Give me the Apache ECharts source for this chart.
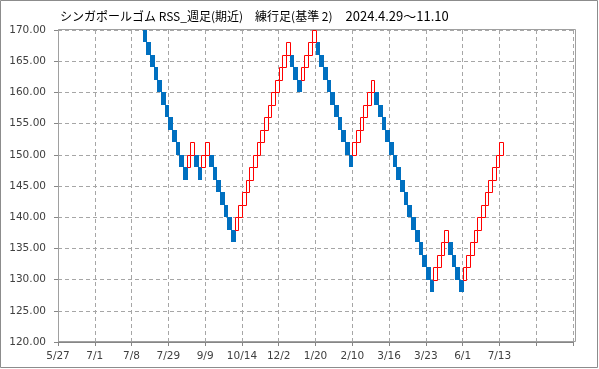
<!DOCTYPE html>
<html>
<head>
<meta charset="utf-8">
<script src="https://cdn.jsdelivr.net/npm/echarts@6/dist/echarts.min.js"></script>
<style>
html,body{margin:0;padding:0;background:#fff;}
#chart{width:599px;height:369px;}
</style>
</head>
<body>
<div id="chart"></div>
<script>
// ---- data ----
const titleMain = 'シンガポールゴム';
const titleSub = 'RSS_週足(期近)　練行足(基準 2)';
const titleDate = '2024.4.29～11.10';
const tickLabels = ['5/27','7/1','7/8','7/29','9/9','10/14','12/2','1/20','2/10','3/16','3/23','6/1','7/13','',''];
const firstBrick = 22;
const brickOpen = [
  172,170,168,166,164,162,160,158,156,154,152,150,148,
  148,150,
  150,148,
  148,150,
  150,148,146,144,142,140,138,
  138,140,142,144,146,148,150,152,154,156,158,160,162,164,166,
  166,164,162,
  162,164,166,168,
  168,166,164,162,160,158,156,154,152,150,
  150,152,154,156,158,160,
  160,158,156,154,152,150,148,146,144,142,140,138,136,134,132,130,
  130,132,134,136,
  136,134,132,130,
  130,132,134,136,138,140,142,144,146,148,150
];
const brickClose = [
  170,168,166,164,162,160,158,156,154,152,150,148,146,
  150,152,
  148,146,
  150,152,
  148,146,144,142,140,138,136,
  140,142,144,146,148,150,152,154,156,158,160,162,164,166,168,
  164,162,160,
  164,166,168,170,
  166,164,162,160,158,156,154,152,150,148,
  152,154,156,158,160,162,
  158,156,154,152,150,148,146,144,142,140,138,136,134,132,130,128,
  132,134,136,138,
  134,132,130,128,
  132,134,136,138,140,142,144,146,148,150,152
];
const yMin = 120, yMax = 170, yStep = 5;
const xMin = 0, xMax = 140, xStep = 10;

// ---- build ----
const bricks = brickOpen.map((o, i) => [firstBrick + i, o, brickClose[i]]);

const chart = echarts.init(document.getElementById('chart'), null, {renderer: 'canvas'});
const gridColor = '#A6A6A6';
const axisColor = '#868686';
const labelFont = 'DejaVu Sans';

const option = {
  backgroundColor: '#fff',
  animation: false,
  grid: {left: 58, right: 26, top: 30, bottom: 27, containLabel: false},
  xAxis: {
    type: 'value', min: xMin, max: xMax, interval: xStep,
    axisLine: {show: true, onZero: false, lineStyle: {color: axisColor, width: 1}},
    axisTick: {show: true, length: 4, lineStyle: {color: axisColor}},
    axisLabel: {
      color: '#404040', fontFamily: labelFont, fontSize: 10.5, margin: 9,
      formatter: v => { const i = Math.round(v / xStep); return (Math.abs(v - i * xStep) < 1e-6 && tickLabels[i]) ? tickLabels[i] : ''; }
    },
    splitLine: {show: true, lineStyle: {color: gridColor, type: [4, 3], width: 1}}
  },
  yAxis: {
    type: 'value', min: yMin, max: yMax, interval: yStep,
    axisLine: {show: true, lineStyle: {color: axisColor, width: 1}},
    axisTick: {show: true, length: 4, lineStyle: {color: axisColor}},
    axisLabel: {color: '#404040', fontFamily: labelFont, fontSize: 10.5, margin: 12, formatter: v => v.toFixed(2)},
    splitLine: {show: true, lineStyle: {color: gridColor, type: [4, 3], width: 1}}
  },
  graphic: [
    {type: 'rect', shape: {x: 0.5, y: 0.5, width: 597, height: 367}, style: {fill: 'none', stroke: '#8C8C8C', lineWidth: 1}, z: 100, silent: true},
    {type: 'rect', shape: {x: 58.5, y: 29.5, width: 517, height: 312}, style: {fill: 'none', stroke: '#A0A0A0', lineWidth: 1}, z: 50, silent: true},
    {type: 'text', left: 60, top: 10, z: 100, style: {
      text: '{a|' + titleMain + ' }{b|' + titleSub + '}{c|　' + titleDate + '}',
      rich: {
        a: {font: '12px "Noto Sans CJK JP"', fill: '#000'},
        b: {font: '12px "Noto Sans CJK JP"', fill: '#000'},
        c: {font: '13px "Noto Sans CJK JP"', fill: '#000'}
      }
    }}
  ],
  series: [{
    type: 'custom',
    clip: true,
    data: bricks,
    encode: {x: 0, y: [1, 2]},
    renderItem: function (params, api) {
      const k = api.value(0), o = api.value(1), c = api.value(2);
      const lo = Math.min(o, c), hi = Math.max(o, c);
      const p1 = api.coord([k, hi]);
      const p2 = api.coord([k + 1, lo]);
      const cs = params.coordSys;
      const up = c > o;
      let x1 = Math.round(p1[0]), x2 = Math.round(p2[0]);
      let y1 = Math.round(p1[1]), y2 = Math.round(p2[1]);
      let r = {x: x1, y: y1, width: x2 - x1, height: y2 - y1};
      r = echarts.graphic.clipRectByRect(r, {x: cs.x, y: cs.y, width: cs.width, height: cs.height});
      if (!r || r.height <= 0) return null;
      if (up) {
        return {type: 'rect', shape: {x: r.x + 0.5, y: r.y + 0.5, width: r.width, height: r.height}, style: {fill: '#fff', stroke: '#FF0000', lineWidth: 1}, z2: 2};
      }
      return {type: 'rect', shape: {x: r.x, y: r.y, width: r.width + 1, height: r.height}, style: {fill: '#0070C0'}, z2: 1};
    }
  }]
};
chart.setOption(option);
</script>
</body>
</html>
